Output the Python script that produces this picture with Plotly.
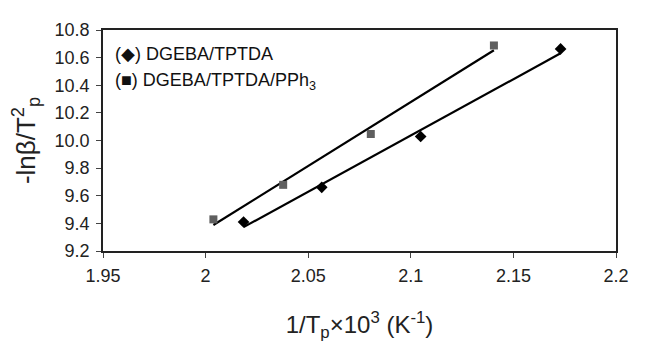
import numpy as np
import plotly.graph_objects as go

# Data
x_tptda = [2.0185, 2.0566, 2.1048, 2.1730]
y_tptda = [9.410, 9.661, 10.029, 10.663]
x_pph3 = [2.0038, 2.0378, 2.0805, 2.1405]
y_pph3 = [9.429, 9.679, 10.047, 10.688]
x_ticks = [1.95, 2.0, 2.05, 2.1, 2.15, 2.2]
x_ticklabels = ["1.95", "2", "2.05", "2.1", "2.15", "2.2"]
y_ticks = [9.2, 9.4, 9.6, 9.8, 10.0, 10.2, 10.4, 10.6, 10.8]

FONT = "Liberation Sans, Arial, sans-serif"

def fit_line(xs, ys):
    m, b = np.polyfit(xs, ys, 1)
    xl = [min(xs), max(xs)]
    return xl, [m * v + b for v in xl]

fig = go.Figure()
for xs, ys in [(x_pph3, y_pph3), (x_tptda, y_tptda)]:
    xl, yl = fit_line(xs, ys)
    fig.add_trace(go.Scatter(x=xl, y=yl, mode="lines",
                             line=dict(color="black", width=2.2), showlegend=False))

fig.add_trace(go.Scatter(x=x_pph3, y=y_pph3, mode="markers",
                         marker=dict(symbol="square", size=8, color="#5f5f5f"),
                         showlegend=False))
fig.add_trace(go.Scatter(x=x_tptda, y=y_tptda, mode="markers",
                         marker=dict(symbol="diamond", size=9, color="black"),
                         showlegend=False))

fig.add_annotation(xref="paper", yref="paper", x=0.02, y=0.893, xanchor="left", yanchor="middle",
                   text="(◆) DGEBA/TPTDA", showarrow=False,
                   font=dict(family=FONT, size=18, color="#111"))
fig.add_annotation(xref="paper", yref="paper", x=0.02, y=0.768, xanchor="left", yanchor="middle",
                   text="(■) DGEBA/TPTDA/PPh<sub>3</sub>", showarrow=False,
                   font=dict(family=FONT, size=18, color="#111"))

# page body has an 8px default margin, so the figure is shrunk by 8px to fit the window
fig.update_layout(
    width=637, height=338,
    margin=dict(l=95, r=29, t=14, b=91),
    paper_bgcolor="white", plot_bgcolor="white",
    font=dict(family=FONT, size=18, color="#222"),
    xaxis=dict(range=[1.95, 2.2], tickvals=x_ticks, ticktext=x_ticklabels,
               showgrid=False, zeroline=False, showline=True, linecolor="#222", linewidth=1.5,
               mirror=True, ticks="outside", ticklen=5, tickcolor="#444",
               ticklabelstandoff=3,
               title=dict(text="1/T<sub>p</sub>×10<sup>3</sup> (K<sup>-1</sup>)",
                          font=dict(size=24), standoff=31)),
    yaxis=dict(range=[9.2, 10.8], tickvals=y_ticks, tickformat=".1f",
               showgrid=False, zeroline=False, showline=True, linecolor="#222", linewidth=1.5,
               mirror=True, ticks="outside", ticklen=5, tickcolor="#444",
               ticklabelstandoff=3,
               title=dict(text="-lnβ/T<sup>2</sup><sub>p</sub>", font=dict(size=26), standoff=15)),
)

fig.write_html("out.html")
